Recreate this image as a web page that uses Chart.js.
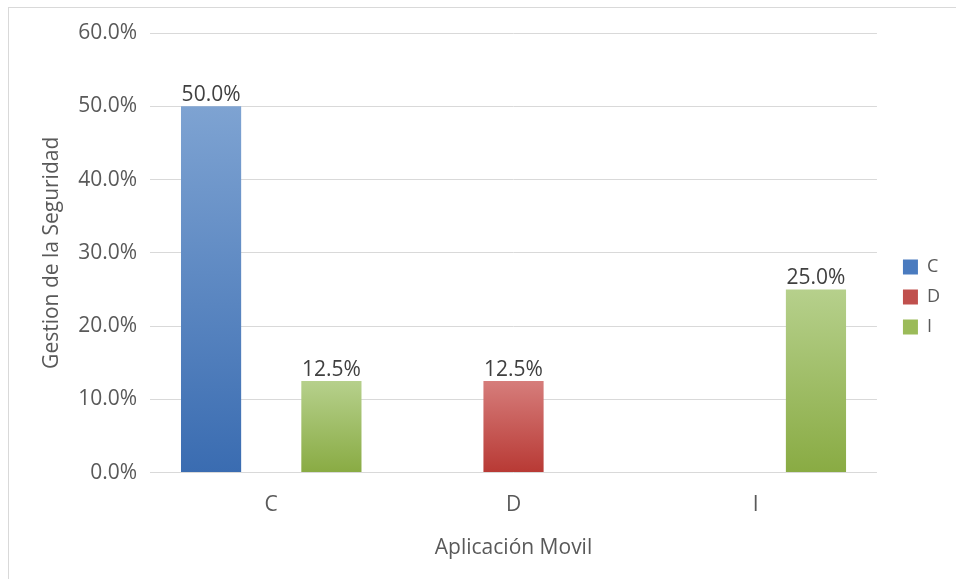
<!DOCTYPE html>
<html>
<head>
<meta charset="utf-8">
<script src="https://cdn.jsdelivr.net/npm/chart.js@4/dist/chart.umd.min.js"></script>
<style>
  html, body { margin: 0; padding: 0; background: #fff; overflow: hidden; }
  #wrap { position: relative; width: 956px; height: 579px; }
  #frame { position: absolute; left: 8px; top: 7px; width: 1000px; height: 1000px; border: 1px solid #d9d9d9; box-sizing: border-box; }
  canvas { position: absolute; left: 0; top: 0; }
</style>
</head>
<body>
<div id="wrap">
  <div id="frame"></div>
  <canvas id="chart" width="956" height="579"></canvas>
</div>
<script>
// Categories on the x axis and one series per response group
const categories = ['C', 'D', 'I'];
const seriesNames = ['C', 'D', 'I'];
const seriesC = [50.0, 0, 0];
const seriesD = [0, 12.5, 0];
const seriesI = [12.5, 0, 25.0];
const yTicks = [0, 10, 20, 30, 40, 50, 60];

// Top / bottom colours of each series' vertical gradient
const palette = [
  { top: '#7ea3d2', bottom: '#3a6cb1', solid: '#4a7bbf' },
  { top: '#d67d7b', bottom: '#b83934', solid: '#c0504d' },
  { top: '#b6d08c', bottom: '#89ab43', solid: '#9bbb59' }
];

function barGradient(p) {
  return (ctx) => {
    const chart = ctx.chart;
    if (ctx.type !== 'data' || !chart.chartArea) return p.solid;
    const v = ctx.dataset.data[ctx.dataIndex];
    const y = chart.scales.y;
    const y0 = y.getPixelForValue(v);
    const y1 = y.getPixelForValue(0);
    if (y1 - y0 < 1) return p.solid;
    const g = chart.ctx.createLinearGradient(0, y0, 0, y1);
    g.addColorStop(0, p.top);
    g.addColorStop(1, p.bottom);
    return g;
  };
}

const seriesValues = [seriesC, seriesD, seriesI];
const datasets = seriesNames.map((name, i) => ({
  label: name,
  data: seriesValues[i],
  backgroundColor: barGradient(palette[i]),
  borderWidth: 0
}));

const FONT = '"Open Sans", sans-serif';
const FS = 21;

// Writes the percentage above every non-empty bar
const valueLabels = {
  id: 'valueLabels',
  afterDatasetsDraw(chart) {
    const ctx = chart.ctx;
    ctx.save();
    ctx.font = FS + 'px ' + FONT;
    ctx.fillStyle = '#404040';
    ctx.textAlign = 'center';
    ctx.textBaseline = 'bottom';
    chart.data.datasets.forEach((ds, di) => {
      const meta = chart.getDatasetMeta(di);
      meta.data.forEach((bar, i) => {
        const v = ds.data[i];
        if (v > 0) ctx.fillText(v.toFixed(1) + '%', bar.x, bar.y - 1);
      });
    });
    ctx.restore();
  }
};

// Leaves a wider gap between the plot and the legend column
const legendGap = {
  id: 'legendGap',
  afterLayout(chart) {
    const lg = chart.legend;
    if (!lg) return;
    lg.left += 14;
    lg.right += 14;
  }
};

new Chart(document.getElementById('chart'), {
  type: 'bar',
  data: { labels: categories, datasets },
  options: {
    responsive: false,
    animation: false,
    devicePixelRatio: 1,
    layout: { padding: { left: 39, top: 33, right: 20, bottom: 18 } },
    datasets: { bar: { barPercentage: 1.0, categoryPercentage: 0.745 } },
    scales: {
      x: {
        grid: { display: false, drawTicks: false },
        border: { display: false },
        ticks: { color: '#595959', font: { family: FONT, size: FS }, padding: 20 },
        title: { display: true, text: 'Aplicación Movil', color: '#595959', font: { family: FONT, size: FS }, padding: { top: -2, bottom: 0 } }
      },
      y: {
        min: 0,
        max: 60,
        afterBuildTicks(scale) { scale.ticks = yTicks.map(v => ({ value: v })); },
        grid: { color: '#d9d9d9', lineWidth: 1, drawTicks: false },
        border: { display: false },
        ticks: {
          color: '#595959',
          font: { family: FONT, size: FS },
          padding: 13,
          callback: (v) => Number(v).toFixed(1) + '%'
        },
        title: { display: true, text: 'Gestion de la Seguridad', color: '#595959', font: { family: FONT, size: FS }, padding: { top: 0, bottom: 1 } }
      }
    },
    plugins: {
      legend: {
        position: 'right',
        align: 'center',
        labels: {
          boxWidth: 15,
          boxHeight: 15,
          padding: 12,
          color: '#595959',
          font: { family: FONT, size: 18 },
          generateLabels(chart) {
            return chart.data.datasets.map((ds, i) => ({
              text: ds.label,
              fillStyle: palette[i].solid,
              strokeStyle: palette[i].solid,
              lineWidth: 0,
              fontColor: '#595959',
              datasetIndex: i,
              hidden: false
            }));
          }
        }
      },
      tooltip: { enabled: false }
    }
  },
  plugins: [valueLabels, legendGap]
});
</script>
</body>
</html>
